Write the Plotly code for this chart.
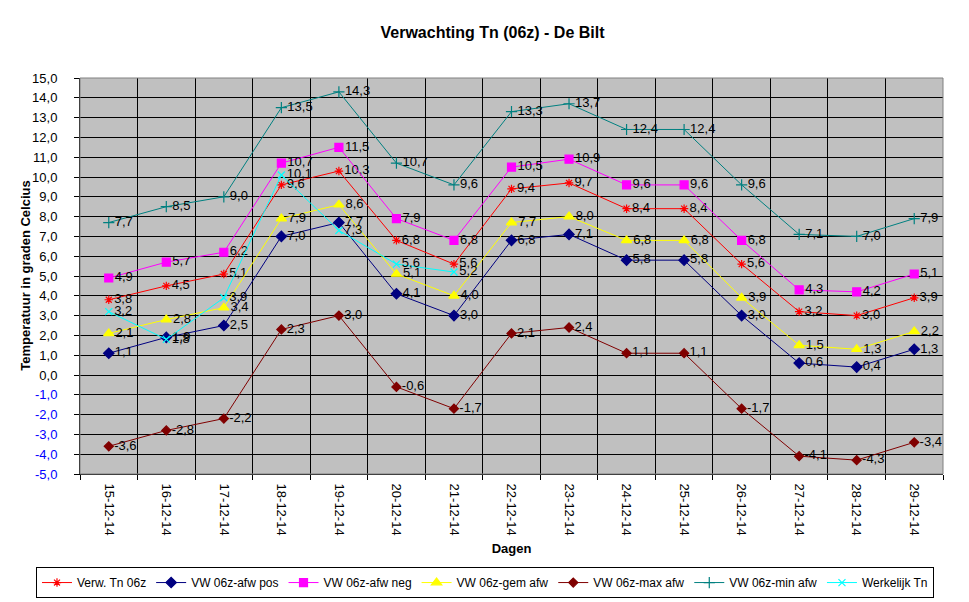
import plotly.graph_objects as go

# Dagen (15 t/m 29 december 2014)
dagen = ["15-12-14", "16-12-14", "17-12-14", "18-12-14", "19-12-14",
         "20-12-14", "21-12-14", "22-12-14", "23-12-14", "24-12-14",
         "25-12-14", "26-12-14", "27-12-14", "28-12-14", "29-12-14"]

verw_tn = [3.8, 4.5, 5.1, 9.6, 10.3, 6.8, 5.6, 9.4, 9.7, 8.4, 8.4, 5.6, 3.2, 3.0, 3.9]
afw_pos = [1.1, 1.9, 2.5, 7.0, 7.7, 4.1, 3.0, 6.8, 7.1, 5.8, 5.8, 3.0, 0.6, 0.4, 1.3]
afw_neg = [4.9, 5.7, 6.2, 10.7, 11.5, 7.9, 6.8, 10.5, 10.9, 9.6, 9.6, 6.8, 4.3, 4.2, 5.1]
gem_afw = [2.1, 2.8, 3.4, 7.9, 8.6, 5.1, 4.0, 7.7, 8.0, 6.8, 6.8, 3.9, 1.5, 1.3, 2.2]
max_afw = [-3.6, -2.8, -2.2, 2.3, 3.0, -0.6, -1.7, 2.1, 2.4, 1.1, 1.1, -1.7, -4.1, -4.3, -3.4]
min_afw = [7.7, 8.5, 9.0, 13.5, 14.3, 10.7, 9.6, 13.3, 13.7, 12.4, 12.4, 9.6, 7.1, 7.0, 7.9]
werkelijk = [3.2, 1.8, 3.9, 10.1, 7.3, 5.6, 5.2, None, None, None, None, None, None, None, None]

y_ticks = list(range(-5, 16))


def nl(v):
    # Dutch decimal comma
    return None if v is None else f"{v:.1f}".replace(".", ",")


def tick_label(v):
    s = nl(v)
    return f"<span style='color:#0000FF'>{s}</span>" if v < 0 else s


series = [
    ("Verw. Tn 06z", verw_tn, "#FF0000", "asterisk-open", 7),
    ("VW 06z-afw pos", afw_pos, "#000080", "diamond", 8),
    ("VW 06z-afw neg", afw_neg, "#FF00FF", "square", 8),
    ("VW 06z-gem afw", gem_afw, "#FFFF00", "triangle-up", 9),
    ("VW 06z-max afw", max_afw, "#800000", "diamond", 7),
    ("VW 06z-min afw", min_afw, "#008080", "cross-thin-open", 8),
    ("Werkelijk Tn", werkelijk, "#00FFFF", "x-thin-open", 7),
]

fig = go.Figure()
for name, vals, color, symbol, size in series:
    fig.add_trace(go.Scatter(
        x=dagen, y=vals, name=name,
        mode="lines+markers+text",
        line=dict(color=color, width=1),
        marker=dict(symbol=symbol, size=size, color=color,
                    line=dict(color=color, width=1.2)),
        text=[nl(v) for v in vals],
        textposition="middle right",
        textfont=dict(family="Liberation Sans, Arial", size=13, color="black"),
        connectgaps=False,
        cliponaxis=False,
    ))

# page body adds 8px offset, margins below are in figure coordinates
fig.update_layout(
    width=969, height=602,
    margin=dict(l=72, r=34, t=70, b=132),
    paper_bgcolor="white",
    plot_bgcolor="#C0C0C0",
    font=dict(family="Liberation Sans, Arial", size=13, color="black"),
    title=dict(text="<b>Verwachting Tn (06z) - De Bilt</b>",
               x=0.5, xanchor="center", y=0.96, yanchor="middle",
               font=dict(size=16)),
    showlegend=True,
    legend=dict(orientation="h", x=-0.051, xanchor="left", y=-0.235, yanchor="top",
                bgcolor="white", bordercolor="black", borderwidth=1,
                font=dict(size=12), itemwidth=30, tracegroupgap=0),
    shapes=[dict(type="rect", xref="paper", yref="paper", x0=0, x1=1, y0=0, y1=1,
                 line=dict(color="#808080", width=1), layer="above")],
    # y-axis title as annotation so it sits where Excel put it
    annotations=[dict(text="<b>Temperatuur in graden Celcius</b>", textangle=-90,
                      xref="paper", yref="paper", x=-0.064, y=0.5,
                      xanchor="center", yanchor="middle", showarrow=False,
                      font=dict(size=13))],
)

fig.update_xaxes(
    type="category", tickson="boundaries",
    ticks="outside", ticklen=5, tickcolor="black",
    tickangle=90, automargin=False, ticklabelstandoff=6,
    showgrid=True, gridcolor="black", gridwidth=1,
    showline=True, linecolor="black", linewidth=1,
    title=dict(text="<b>Dagen</b>", font=dict(size=13), standoff=9),
    range=[-0.5, len(dagen) - 0.5],
)

fig.update_yaxes(
    range=[-5, 15],
    tickvals=y_ticks, ticktext=[tick_label(v) for v in y_ticks],
    ticks="outside", ticklen=5, tickcolor="black",
    ticklabelstandoff=14, automargin=False,
    showgrid=True, gridcolor="black", gridwidth=1,
    zeroline=False,
    showline=True, linecolor="black", linewidth=1,
)

fig.write_html("out.html")
